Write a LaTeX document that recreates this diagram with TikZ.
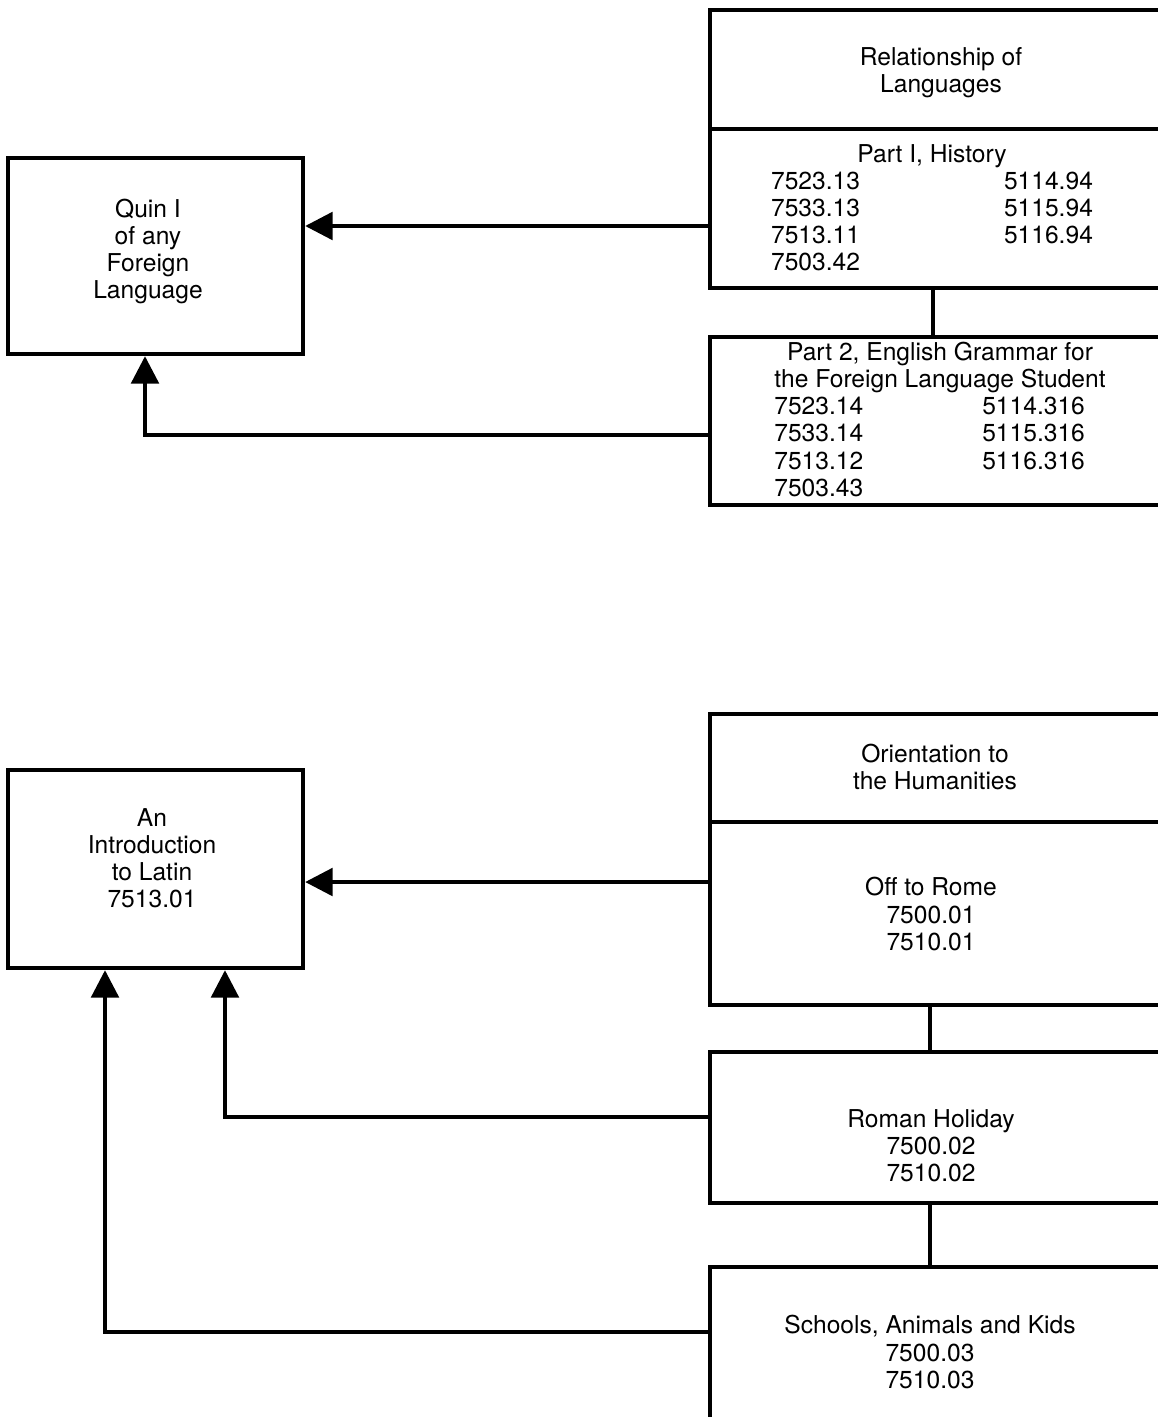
\documentclass[tikz,border=0pt]{standalone}
\usepackage{fontspec}
\setmainfont{TeX Gyre Heros}
\usetikzlibrary{arrows.meta}

\begin{document}
\begin{tikzpicture}[
    x=0.02cm, y=-0.02cm,
    box/.style={draw, line width=2.5pt, minimum width=9.08cm},
    lbox/.style={draw, line width=2.5pt, minimum width=5.9cm},
    txt/.style={inner sep=0pt, align=center, font=\fontsize{14}{15.4}\selectfont},
    arr/.style={-{Triangle[length=5.5mm, width=5.5mm]}, line width=2.3pt},
    link/.style={line width=1.9pt}
  ]
    \useasboundingbox (0,0) rectangle (1158,1417);

    % upper group
    \node[box, minimum height=2.38cm] (rel) at (937,69.5) {};
    \node[box, minimum height=3.18cm] (part1) at (937,208.5) {};
    \node[box, minimum height=3.36cm] (part2) at (937,421) {};
    \node[lbox, minimum height=3.92cm] (quin) at (155.5,256) {};

    \node[txt] (rel-t) at (941,73) {Relationship of\\Languages};
    \node[txt] (part1-t) at (932,211) {\begin{tabular}{@{}p{4.66cm}@{}l@{}}
      \multicolumn{2}{@{}c@{}}{Part I, History}\\
      7523.13 & 5114.94\\
      7533.13 & 5115.94\\
      7513.11 & 5116.94\\
      7503.42 & \\
    \end{tabular}};
    \node[txt] (part2-t) at (940,423) {\begin{tabular}{@{}p{4.16cm}@{}l@{}}
      \multicolumn{2}{@{}c@{}}{Part 2, English Grammar for}\\
      \multicolumn{2}{@{}c@{}}{the Foreign Language Student}\\
      7523.14 & 5114.316\\
      7533.14 & 5115.316\\
      7513.12 & 5116.316\\
      7503.43 & \\
    \end{tabular}};
    \node[txt] (quin-t) at (148,251.5) {Quin I\\of any\\Foreign\\Language};

    \coordinate (q1) at ([yshift=-0.35cm]part1.west);
    \draw[arr] (q1) -- (q1 -| quin.east);
    \draw[arr] ([yshift=-0.28cm]part2.west) -| ([xshift=-0.21cm]quin.south);
    \draw[link] ([xshift=-0.08cm]part1.south) -- ([xshift=-0.08cm]part2.north);

    % lower group
    \node[box, minimum height=2.16cm] (orient) at (937,768) {};
    \node[box, minimum height=3.66cm] (rome) at (937,913.5) {};
    \node[box, minimum height=3.02cm] (roman) at (937,1127.5) {};
    \node[box, minimum height=3.06cm] (schools) at (937,1343.5) {};
    \node[lbox, minimum height=3.96cm] (latin) at (155.5,869) {};

    \node[txt] (orient-t) at (935,767) {Orientation to\\the Humanities};
    \node[txt] (rome-t) at (931,914) {Off to Rome\\7500.01\\7510.01};
    \node[txt] (roman-t) at (931,1146) {Roman Holiday\\7500.02\\7510.02};
    \node[txt] (schools-t) at (930,1352) {Schools, Animals and Kids\\7500.03\\7510.03};
    \node[txt] (latin-t) at (152,858.5) {An\\Introduction\\to Latin\\7513.01};

    \coordinate (l1) at ([yshift=0.63cm]rome.west);
    \draw[arr] (l1) -- (l1 -| latin.east);
    \draw[arr] ([yshift=0.21cm]roman.west) -| ([xshift=1.39cm]latin.south);
    \draw[arr] ([yshift=0.23cm]schools.west) -| ([xshift=-1.01cm]latin.south);
    \draw[link] ([xshift=-0.14cm]rome.south) -- ([xshift=-0.14cm]roman.north);
    \draw[link] ([xshift=-0.14cm]roman.south) -- ([xshift=-0.14cm]schools.north);
  \end{tikzpicture}
\end{document}
